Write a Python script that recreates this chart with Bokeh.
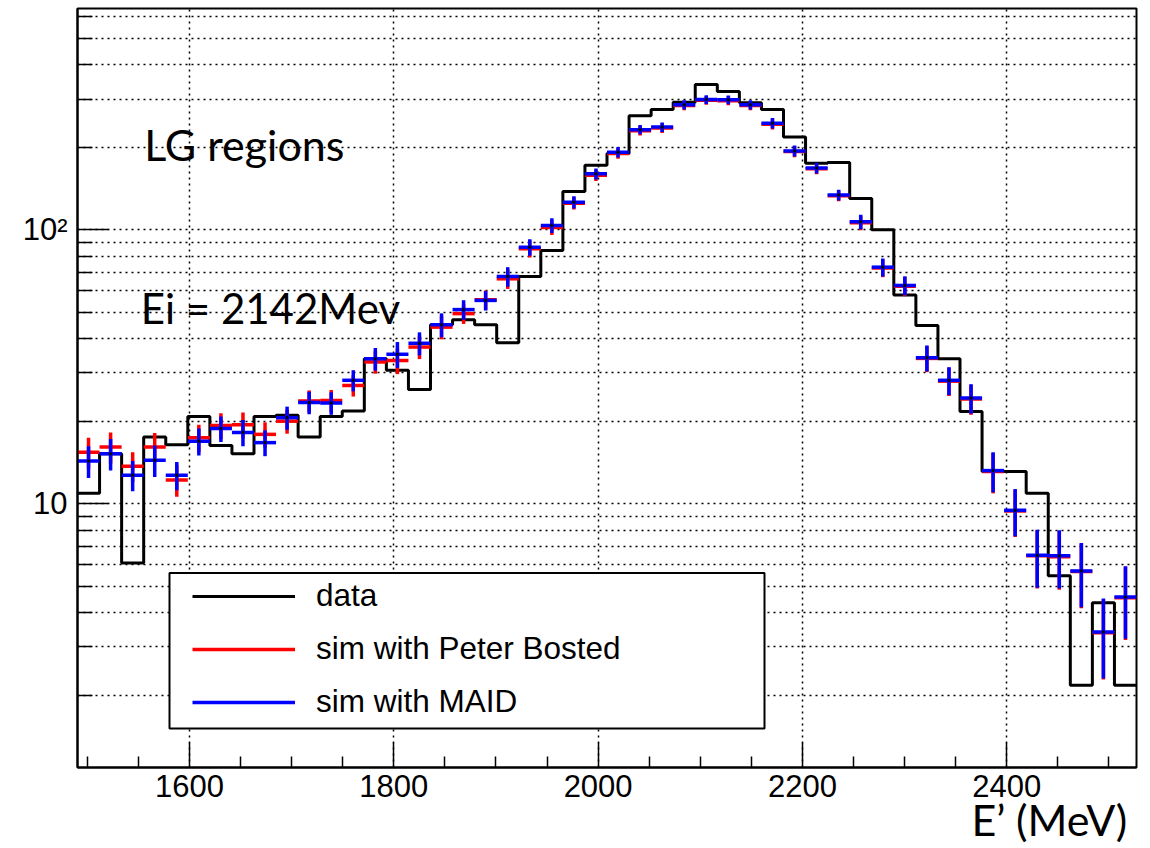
import numpy as np
from bokeh.plotting import figure
from bokeh.models import (Range1d, FixedTicker, CustomJSTickFormatter, Legend,
                          LegendItem, Label, BoxAnnotation, ColumnDataSource, Title)
from bokeh.embed import file_html
from bokeh.resources import INLINE

# ---------------- data ----------------
x_min, x_max, n_bins = 1490.3, 2527.1, 48

data_counts = [10.9, 15.2, 6.07, 17.5, 16.4, 20.8, 16.3, 15.2, 20.8, 21.0,
               17.5, 20.8, 21.8, 33.8, 30.7, 26.1, 45.0, 46.9, 45.0, 38.7,
               67.5, 84.0, 138, 172, 190, 261, 275, 292, 339, 320,
               291, 275, 218, 175, 176, 130, 100, 57.8, 44.7, 33.8,
               21.7, 13.1, 13.1, 10.9, 5.45, 2.17, 4.35, 2.17]

sim_bosted = [15.4, 16.1, 13.7, 16.1, 12.2, 17.4, 19.3, 19.4, 17.9, 20.0,
              23.7, 23.8, 27.0, 32.9, 33.3, 37.3, 44.1, 49.4, 55.5, 66.2,
              85.2, 102, 125, 158, 190, 230, 235, 284, 297, 296,
              284, 243, 193, 167, 133, 106, 72.5, 62.2, 33.9, 28.0,
              24.1, 13.1, 9.4, 6.45, 6.4, 5.65, 3.38, 4.53]
sim_bosted_err = [2.0, 2.1, 1.7, 2.0, 1.6, 2.0, 2.1, 2.1, 1.9, 2.0,
                  2.2, 2.2, 2.4, 3.1, 3.6, 3.6, 4.3, 4.1, 4.5, 5.4,
                  6.0, 6.4, 6.5, 7.4, 8.4, 9.0, 9.4, 10.8, 11.0, 11.0,
                  10.8, 10.8, 9.0, 7.5, 6.0, 6.4, 5.4, 5.0, 3.7, 3.3,
                  3.0, 2.2, 1.85, 1.55, 1.55, 1.5, 1.1, 1.35]

sim_maid = [14.3, 15.2, 12.7, 14.4, 12.7, 16.9, 18.8, 18.2, 16.7, 20.6,
            23.4, 23.3, 28.2, 33.8, 35.1, 38.5, 45.0, 51.1, 55.2, 67.5,
            86.4, 103.7, 126, 160, 192, 232, 237, 286, 299, 298,
            286, 245, 194, 168, 134, 107, 73.0, 62.6, 34.1, 28.2,
            24.3, 13.2, 9.45, 6.48, 6.45, 5.68, 3.40, 4.56]
sim_maid_err = [1.9, 2.0, 1.6, 1.9, 1.5, 1.9, 2.0, 2.0, 1.8, 2.0,
                2.2, 2.2, 2.5, 3.2, 3.8, 3.7, 4.5, 4.2, 4.5, 5.5,
                6.0, 6.5, 6.5, 7.5, 8.5, 9.0, 9.5, 11.0, 11.0, 11.0,
                11.0, 11.0, 9.0, 7.5, 6.0, 6.5, 5.5, 5.0, 3.7, 3.3,
                3.0, 2.2, 1.85, 1.55, 1.55, 1.5, 1.1, 1.35]

y_major_ticks = [10, 100]
y_major_labels = ["10", "10\u00b2"]
y_minor_ticks = [2, 3, 4, 5, 6, 7, 8, 9, 20, 30, 40, 50, 60, 70, 80, 90,
                 200, 300, 400, 500, 600]
x_major_ticks = [1600, 1800, 2000, 2200, 2400]
x_minor_ticks = [1500, 1550, 1650, 1700, 1750, 1850, 1900, 1950, 2050, 2100,
                 2150, 2250, 2300, 2350, 2450, 2500]

legend_labels = ["data", "sim with Peter Bosted", "sim with MAID"]
text_region = "LG regions"
text_energy = "Ei = 2142Mev"
x_title = "E\u2019 (MeV)"

# ---------------- derived ----------------
edges = np.linspace(x_min, x_max, n_bins + 1)
lo, hi = edges[:-1], edges[1:]
ctr = 0.5 * (lo + hi)

def err_source(vals, errs):
    v = np.array(vals, dtype=float)
    e = np.array(errs, dtype=float)
    return ColumnDataSource(dict(lo=lo, hi=hi, x=ctr, y=v, ylo=v - e, yhi=v + e))

p = figure(width=1150, height=848, y_axis_type="log",
           x_range=Range1d(x_min, x_max), y_range=Range1d(1.0877, 642.4),
           output_backend="svg", toolbar_location=None,
           min_border_left=77, min_border_right=14, min_border_top=8,
           min_border_bottom=81)
p.background_fill_color = "white"
p.border_fill_color = "white"
p.outline_line_color = "black"
p.outline_line_width = 2

# ticks & grids
yt = FixedTicker(ticks=y_major_ticks, minor_ticks=y_minor_ticks)
xt = FixedTicker(ticks=x_major_ticks, minor_ticks=x_minor_ticks)
p.yaxis.ticker = yt
p.xaxis.ticker = xt
p.ygrid.ticker = yt
p.xgrid.ticker = xt
p.yaxis.formatter = CustomJSTickFormatter(
    args=dict(vals=y_major_ticks, labs=y_major_labels),
    code="const i = vals.indexOf(tick); return i < 0 ? '' : labs[i];")

for g in (p.xgrid, p.ygrid):
    g.grid_line_color = "black"
    g.grid_line_dash = "2 4"
    g.grid_line_width = 1.5
p.ygrid.minor_grid_line_color = "black"
p.ygrid.minor_grid_line_dash = "2 4"
p.ygrid.minor_grid_line_width = 1.5
p.xgrid.minor_grid_line_color = None

for ax in (p.xaxis, p.yaxis):
    ax.axis_line_color = "black"
    ax.axis_line_width = 2
    ax.major_tick_out = 0
    ax.minor_tick_out = 0
    ax.major_tick_line_color = "black"
    ax.minor_tick_line_color = "black"
    ax.major_tick_line_width = 1.5
    ax.minor_tick_line_width = 1.5
    ax.major_label_text_font = "Liberation Sans"
    ax.major_label_text_font_size = "31px"
    ax.major_label_text_color = "black"
p.xaxis.major_tick_in = 25
p.xaxis.minor_tick_in = 11
p.yaxis.major_tick_in = 31
p.yaxis.minor_tick_in = 15
p.xaxis.major_label_standoff = 7
p.yaxis.major_label_standoff = 10

# data histogram
step_r = p.step(x=list(edges), y=data_counts + [data_counts[-1]], mode="after",
                line_color="black", line_width=3)

# simulations with error bars
src_red = err_source(sim_bosted, sim_bosted_err)
src_blue = err_source(sim_maid, sim_maid_err)
red_h = p.segment(x0="lo", y0="y", x1="hi", y1="y", source=src_red,
                  line_color="red", line_width=3.5)
p.segment(x0="x", y0="ylo", x1="x", y1="yhi", source=src_red,
          line_color="red", line_width=3.5)
blue_h = p.segment(x0="lo", y0="y", x1="hi", y1="y", source=src_blue,
                   line_color="blue", line_width=3.5)
p.segment(x0="x", y0="ylo", x1="x", y1="yhi", source=src_blue,
          line_color="blue", line_width=3.5)
p.scatter(x="x", y="y", source=src_blue, size=2.5, color="black")

# legend frame + legend
frame = BoxAnnotation(left=92, right=687, top=194.6, bottom=39,
                      left_units="screen", right_units="screen",
                      top_units="screen", bottom_units="screen",
                      fill_color="white", fill_alpha=1.0,
                      line_color="black", line_alpha=1.0, line_width=2)
p.add_layout(frame)

legend = Legend(items=[LegendItem(label=legend_labels[0], renderers=[step_r]),
                       LegendItem(label=legend_labels[1], renderers=[red_h]),
                       LegendItem(label=legend_labels[2], renderers=[blue_h])],
                location=(105, 36.6), padding=10, spacing=16,
                glyph_width=103, glyph_height=36, label_height=36,
                label_standoff=21, label_text_font="Liberation Sans",
                label_text_font_size="31.5px", label_text_color="black",
                border_line_alpha=0, background_fill_alpha=0)
p.add_layout(legend)

# free text
p.add_layout(Label(x=66.7, y=623, x_units="screen", y_units="screen",
                   text=text_region, text_font="Lato", text_font_size="43px",
                   text_color="black", text_baseline="alphabetic"))
p.add_layout(Label(x=63.3, y=459.6, x_units="screen", y_units="screen",
                   text=text_energy, text_font="Lato", text_font_size="42px",
                   text_color="black", text_baseline="alphabetic"))

# x-axis title, right aligned below the axis
p.add_layout(Title(text=x_title, align="right", text_font="Lato",
                   text_font_size="43px", text_font_style="normal",
                   text_color="black", standoff=-16, offset=9), "below")

open("out.html", "w").write(file_html(p, INLINE))
